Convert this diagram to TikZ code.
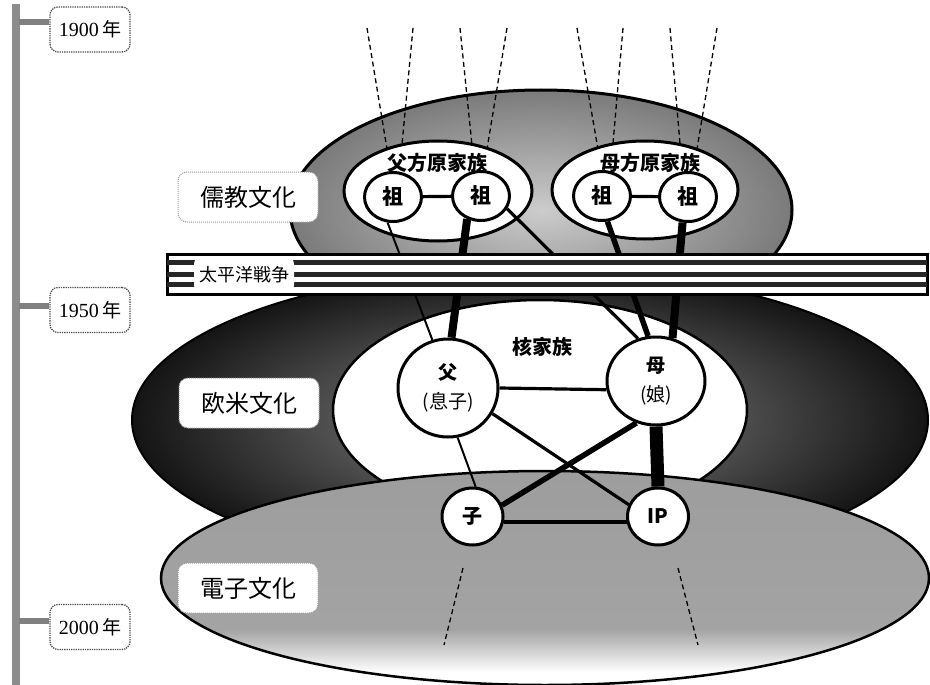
\documentclass[tikz,border=0pt]{standalone}
\usepackage{fontspec}
\setmainfont{Liberation Serif}
\newfontfamily\cjk{Noto Sans CJK JP}
\usetikzlibrary{shapes.geometric}
\pgfdeclareverticalshading{digitalshade}{100bp}{color(0bp)=(white); color(28bp)=(white); color(38bp)=(black!36); color(100bp)=(black!40)}
\begin{document}
\begin{tikzpicture}[x=1pt,y=-1pt,
  yearbox/.style={draw=black!70, densely dotted, line width=1.3pt, rounded corners=8pt, fill=white, minimum width=80pt, minimum height=45pt, inner sep=0pt, font=\fontsize{20}{22}\selectfont},
  culturebox/.style={draw=black!40, densely dotted, line width=1pt, rounded corners=9pt, fill=white, minimum width=140pt, minimum height=50pt, inner sep=0pt, font=\cjk\fontsize{24}{28}\selectfont},
  yeartick/.style={line width=6pt, black!50},
  famring/.style={ellipse, draw, line width=3pt, fill=white, inner sep=0pt},
  ancestor/.style={ellipse, draw, line width=3pt, fill=white, minimum width=57pt, minimum height=49pt, inner sep=0pt, font=\cjk\bfseries\fontsize{21}{24}\selectfont},
  parent/.style={ellipse, draw, line width=3pt, fill=white, inner sep=0pt, align=center, font=\cjk\fontsize{19}{29}\selectfont},
  child/.style={ellipse, draw, line width=3pt, fill=white, minimum width=61pt, minimum height=57pt, inner sep=0pt, font=\cjk\bfseries\fontsize{20}{24}\selectfont},
  famlabel/.style={font=\cjk\bfseries\fontsize{20}{24}\selectfont, inner sep=0pt},
  ray/.style={line width=1.3pt, dash pattern=on 5pt off 3.5pt},
  thinlink/.style={line width=2pt},
  midlink/.style={line width=3.2pt},
  boldlink/.style={line width=5.5pt},
  heavylink/.style={line width=8pt},
  stripe/.style={line width=5pt, black!85},
]
\useasboundingbox (0,0) rectangle (930,685);
\fill[white] (0,0) rectangle (930,685);

% timeline
\fill[black!45] (12,4) rectangle (20,685);
\node[yearbox] (y1900) at (90,29.5) {1900\,{\cjk\fontsize{19}{22}\selectfont 年}};
\node[yearbox] (y1950) at (90,310) {1950\,{\cjk\fontsize{19}{22}\selectfont 年}};
\node[yearbox] (y2000) at (90,627) {2000\,{\cjk\fontsize{19}{22}\selectfont 年}};
\coordinate (b1900) at (19,22);
\coordinate (b1950) at (19,306);
\coordinate (b2000) at (19,621);
\draw[yeartick] (b1900) -- ([yshift=7.5pt]y1900.west);
\draw[yeartick] (b1950) -- ([yshift=4pt]y1950.west);
\draw[yeartick] (b2000) -- ([yshift=6pt]y2000.west);

% Confucian culture ellipse
\node[ellipse, draw, line width=3pt, shade, inner color=black!20, outer color=black!52, minimum width=502pt, minimum height=240pt, inner sep=0pt] (confucian) at (541,210) {};

% ancestor rays
\coordinate (r1a) at (367,28); \coordinate (r1b) at (388,155);
\coordinate (r2a) at (413,28); \coordinate (r2b) at (401,155);
\coordinate (r3a) at (460,28); \coordinate (r3b) at (473,155);
\coordinate (r4a) at (507,28); \coordinate (r4b) at (486,155);
\coordinate (r5a) at (577,28); \coordinate (r5b) at (599,155);
\coordinate (r6a) at (623,28); \coordinate (r6b) at (612,155);
\coordinate (r7a) at (670,28); \coordinate (r7b) at (681,155);
\coordinate (r8a) at (717,28); \coordinate (r8b) at (696,155);
\foreach \i in {1,...,8} { \draw[ray] (r\i a) -- (r\i b); }

\node[famring, minimum width=188pt, minimum height=100pt] (patri) at (438,191) {};
\node[famring, minimum width=186pt, minimum height=98pt] (matri) at (645,190) {};

% Western culture ellipse
\node[ellipse, draw, line width=2pt, shade, inner color=black!45, outer color=black!92, minimum width=796pt, minimum height=302pt, inner sep=0pt] (western) at (530,420) {};
\node[ellipse, draw, line width=2.5pt, fill=white, minimum width=414pt, minimum height=220pt, inner sep=0pt] (nuclear) at (540,410) {};

% Digital culture ellipse
\node[ellipse, draw, line width=2.5pt, shade, shading=digitalshade, minimum width=768pt, minimum height=214pt, inner sep=0pt] (digital) at (545,578) {};
\coordinate (d1a) at (463,568); \coordinate (d1b) at (444,645);
\coordinate (d2a) at (678,568); \coordinate (d2b) at (698,645);
\draw[ray] (d1a) -- (d1b);
\draw[ray] (d2a) -- (d2b);

% culture labels
\node[culturebox] (lconf) at (248,197) {儒教文化};
\node[culturebox] (lwest) at (249,403) {欧米文化};
\node[culturebox] (ldig) at (248,588) {電子文化};

% family labels
\node[famlabel] (patrilabel) at (437,163) {父方原家族};
\node[famlabel] (matrilabel) at (650,163) {母方原家族};
\node[famlabel] (nuclabel) at (542,347) {核家族};

% people
\node[ancestor] (zu1) at (393,197) {祖};
\node[ancestor] (zu2) at (481,196) {祖};
\node[ancestor] (zu3) at (602,196) {祖};
\node[ancestor] (zu4) at (688,197) {祖};
\node[parent, minimum width=100pt, minimum height=98pt] (fu) at (448,388) {{\bfseries 父}\\(息子)};
\node[parent, minimum width=98pt, minimum height=88pt] (mu) at (656,381) {{\bfseries 母}\\(娘)};
\node[child] (ko) at (472.5,516.5) {子};
\node[child] (ip) at (658,516.5) {IP};

% connectors
\draw[midlink] (zu1) -- (zu2);
\draw[midlink] (zu3) -- (zu4);
\draw[thinlink] (zu1.258) -- (fu.108);
\draw[heavylink] (zu2.239) -- (fu.86);
\draw[midlink] (zu2.334) -- (mu.113);
\draw[boldlink] (zu3.282) -- (mu.100);
\draw[heavylink] (zu4.258) -- (mu.69);
\draw[midlink] (fu.0) -- (mu.190);
\draw[thinlink] (fu.281) -- (ko.84);
\draw[midlink] (fu.330) -- (ip.158);
\draw[boldlink] (mu.245) -- (ko.21);
\draw[line width=13pt] (mu.south) -- (ip.north);
\draw[midlink] (ko.-10) -- (ip.190);

% Pacific War band
\node[draw, line width=3pt, fill=white, minimum width=760pt, minimum height=40pt, inner sep=0pt] (war) at (547,274) {};
\draw[stripe] ([xshift=1.5pt,yshift=11.5pt]war.west) -- ([xshift=-1.5pt,yshift=11.5pt]war.east);
\draw[stripe] ([xshift=1.5pt,yshift=-0.5pt]war.west) -- ([xshift=-1.5pt,yshift=-0.5pt]war.east);
\draw[stripe] ([xshift=1.5pt,yshift=-10.5pt]war.west) -- ([xshift=-1.5pt,yshift=-10.5pt]war.east);
\node[fill=white, rounded corners=7pt, minimum width=100pt, minimum height=35pt, inner sep=0pt, font=\cjk\fontsize{18}{20}\selectfont] (warlabel) at (244,274.5) {太平洋戦争};
\end{tikzpicture}
\end{document}
